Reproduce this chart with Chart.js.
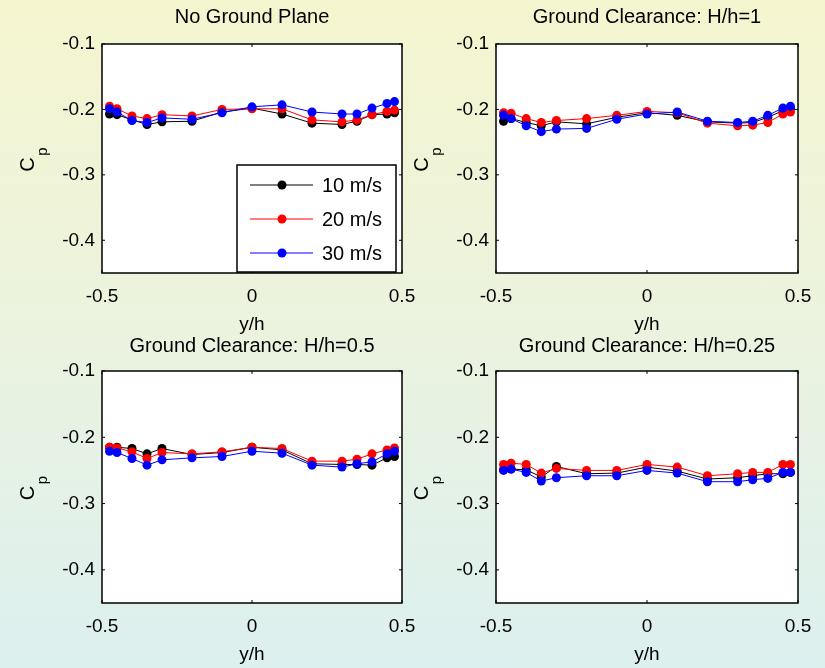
<!DOCTYPE html>
<html lang="en">
<head>
<meta charset="UTF-8">
<title>Cp vs y/h</title>
<script src="https://cdn.jsdelivr.net/npm/chart.js"></script>
<style>
  html, body { margin: 0; padding: 0; }
  body {
    width: 825px; height: 668px; position: relative; overflow: hidden;
    background: linear-gradient(to bottom, #f5f5cf 0%, #ebf3df 50%, #dcf0ef 100%);
  }
  canvas { position: absolute; }
</style>
</head>
<body>
<canvas id="c1" width="430" height="338" style="left:0px;top:0px"></canvas>
<canvas id="c2" width="431" height="338" style="left:394px;top:0px"></canvas>
<canvas id="c3" width="430" height="334" style="left:0px;top:334px"></canvas>
<canvas id="c4" width="431" height="334" style="left:394px;top:334px"></canvas>
<script>
// spanwise positions y/h (same for every panel)
const yh = [-0.475, -0.45, -0.4, -0.35, -0.3, -0.2, -0.1, 0, 0.1, 0.2, 0.3, 0.35, 0.4, 0.45, 0.475];
const speeds = ['10 m/s', '20 m/s', '30 m/s'];
const speedColors = ['#000000', '#ff0000', '#0000ff'];
const xTicks = [-0.5, 0, 0.5];
const yTicks = [-0.4, -0.3, -0.2, -0.1];
const titles = ['No Ground Plane', 'Ground Clearance: H/h=1', 'Ground Clearance: H/h=0.5', 'Ground Clearance: H/h=0.25'];

// No ground plane
const cpNoGround10 = [-0.207, -0.208, -0.216, -0.223, -0.219, -0.218, -0.204, -0.198, -0.207, -0.221, -0.223, -0.218, -0.208, -0.207, -0.205];
const cpNoGround20 = [-0.195, -0.199, -0.210, -0.214, -0.208, -0.210, -0.200, -0.199, -0.199, -0.216, -0.219, -0.216, -0.208, -0.203, -0.201];
const cpNoGround30 = [-0.199, -0.204, -0.217, -0.220, -0.213, -0.215, -0.205, -0.196, -0.193, -0.204, -0.207, -0.207, -0.198, -0.191, -0.188];
// H/h = 1
const cpH1_10 = [-0.218, -0.214, -0.220, -0.225, -0.219, -0.222, -0.212, -0.205, -0.209, -0.219, -0.221, -0.220, -0.212, -0.202, -0.199];
const cpH1_20 = [-0.205, -0.206, -0.214, -0.220, -0.217, -0.214, -0.209, -0.203, -0.205, -0.221, -0.225, -0.224, -0.220, -0.207, -0.204];
const cpH1_30 = [-0.209, -0.214, -0.225, -0.234, -0.230, -0.229, -0.215, -0.207, -0.204, -0.218, -0.220, -0.218, -0.209, -0.198, -0.195];
// H/h = 0.5
const cpH05_10 = [-0.215, -0.215, -0.217, -0.225, -0.217, -0.226, -0.223, -0.215, -0.219, -0.240, -0.241, -0.241, -0.242, -0.231, -0.229];
const cpH05_20 = [-0.215, -0.216, -0.222, -0.232, -0.223, -0.225, -0.222, -0.215, -0.217, -0.236, -0.236, -0.233, -0.225, -0.219, -0.216];
const cpH05_30 = [-0.221, -0.223, -0.232, -0.242, -0.234, -0.231, -0.229, -0.221, -0.224, -0.242, -0.245, -0.240, -0.237, -0.225, -0.221];
// H/h = 0.25
const cpH025_10 = [-0.249, -0.248, -0.249, -0.260, -0.244, -0.255, -0.254, -0.245, -0.251, -0.263, -0.261, -0.258, -0.255, -0.255, -0.253];
const cpH025_20 = [-0.241, -0.239, -0.241, -0.254, -0.247, -0.250, -0.250, -0.241, -0.245, -0.258, -0.255, -0.253, -0.253, -0.241, -0.241];
const cpH025_30 = [-0.250, -0.248, -0.253, -0.266, -0.261, -0.258, -0.258, -0.250, -0.254, -0.267, -0.267, -0.264, -0.262, -0.253, -0.253];

const FONT = 'Liberation Sans, Arial, sans-serif';

// white plot area, matlab style box with inward ticks, panel title and the C_p label
const axesBox = {
  id: 'axesBox',
  beforeDraw(chart) {
    const a = chart.chartArea, ctx = chart.ctx;
    ctx.save();
    ctx.fillStyle = '#ffffff';
    ctx.fillRect(a.left, a.top, a.right - a.left, a.bottom - a.top);
    ctx.restore();
  },
  afterDraw(chart, args, opts) {
    const a = chart.chartArea, ctx = chart.ctx;
    const xs = chart.scales.x, ys = chart.scales.y;
    ctx.save();
    ctx.strokeStyle = '#000000';
    ctx.lineWidth = 1.5;
    ctx.strokeRect(a.left, a.top, a.right - a.left, a.bottom - a.top);
    ctx.lineWidth = 1;
    ctx.beginPath();
    xs.ticks.forEach(t => {
      const px = xs.getPixelForValue(t.value);
      ctx.moveTo(px, a.bottom); ctx.lineTo(px, a.bottom - 3);
      ctx.moveTo(px, a.top); ctx.lineTo(px, a.top + 3);
    });
    ys.ticks.forEach(t => {
      const py = ys.getPixelForValue(t.value);
      ctx.moveTo(a.left, py); ctx.lineTo(a.left + 3, py);
      ctx.moveTo(a.right, py); ctx.lineTo(a.right - 3, py);
    });
    ctx.stroke();

    // title centred over the plot box
    ctx.fillStyle = '#000000';
    ctx.textAlign = 'center';
    ctx.textBaseline = 'middle';
    ctx.font = '20px ' + FONT;
    ctx.fillText(opts.title, (a.left + a.right) / 2, a.top - opts.titleGap);

    // y axis title C with subscript p, rotated
    const mid = (a.top + a.bottom) / 2;
    ctx.translate(a.left - 74, mid + 6);
    ctx.rotate(-Math.PI / 2);
    ctx.font = '20px ' + FONT;
    ctx.fillText('C', 0, 0);
    ctx.font = '15px ' + FONT;
    ctx.fillText('p', 13, 15);
    ctx.restore();
  }
};

// legend box drawn inside the first panel
const boxLegend = {
  id: 'boxLegend',
  afterDraw(chart) {
    const a = chart.chartArea, ctx = chart.ctx;
    const left = a.right - 165, right = a.right - 6, top = a.top + 121, bottom = a.bottom - 1;
    ctx.save();
    ctx.fillStyle = '#ffffff';
    ctx.fillRect(left, top, right - left, bottom - top);
    ctx.strokeStyle = '#000000';
    ctx.lineWidth = 1.5;
    ctx.strokeRect(left, top, right - left, bottom - top);
    ctx.font = '20px ' + FONT;
    ctx.textBaseline = 'middle';
    ctx.textAlign = 'left';
    chart.data.datasets.forEach((ds, i) => {
      const y = top + 20 + i * 34;
      ctx.strokeStyle = ds.borderColor;
      ctx.lineWidth = 1;
      ctx.beginPath();
      ctx.moveTo(left + 13, y); ctx.lineTo(left + 76, y);
      ctx.stroke();
      ctx.fillStyle = ds.backgroundColor;
      ctx.beginPath();
      ctx.arc(left + 45, y, 4.5, 0, Math.PI * 2);
      ctx.fill();
      ctx.fillStyle = '#000000';
      ctx.fillText(ds.label, left + 85, y + 1);
    });
    ctx.restore();
  }
};

function makeChart(id, title, series, topRow, withLegend) {
  const datasets = series.map((vals, i) => ({
    label: speeds[i],
    data: yh.map((x, k) => ({ x: x, y: vals[k] })),
    borderColor: speedColors[i],
    backgroundColor: speedColors[i],
    borderWidth: 1,
    pointRadius: 4.5,
    pointHoverRadius: 4.5,
    pointBorderWidth: 0,
    tension: 0,
    order: 3 - i      // blue drawn on top
  }));
  const plugins = [axesBox];
  if (withLegend) plugins.push(boxLegend);

  return new Chart(document.getElementById(id), {
    type: 'line',
    data: { datasets: datasets },
    plugins: plugins,
    options: {
      responsive: false,
      maintainAspectRatio: false,
      animation: false,
      events: [],
      layout: { padding: { left: 0, right: id === 'c1' || id === 'c3' ? 28 : 27, top: topRow ? 44 : 37, bottom: 0 } },
      plugins: {
        legend: { display: false },
        tooltip: { enabled: false },
        title: { display: false },
        axesBox: { title: title, titleGap: topRow ? 27 : 25 }
      },
      scales: {
        x: {
          type: 'linear',
          min: -0.5,
          max: 0.5,
          afterBuildTicks: s => { s.ticks = xTicks.map(v => ({ value: v })); },
          afterFit: s => { s.height = 65; },
          grid: { display: false, drawTicks: false },
          border: { display: false },
          ticks: {
            color: '#000000',
            padding: 12.6,
            maxRotation: 0,
            autoSkip: false,
            font: { family: FONT, size: 19, lineHeight: 1.2 },
            callback: v => (v === 0 ? '0' : v.toFixed(1))
          },
          title: {
            display: true,
            text: 'y/h',
            color: '#000000',
            font: { family: FONT, size: 19, lineHeight: 1.2 },
            padding: { top: 0, bottom: 1.6 }
          }
        },
        y: {
          type: 'linear',
          min: -0.45,
          max: -0.1,
          afterBuildTicks: s => { s.ticks = yTicks.map(v => ({ value: v })); },
          afterFit: s => { s.width = 102; },
          grid: { display: false, drawTicks: false },
          border: { display: false },
          ticks: {
            color: '#000000',
            padding: 7,
            autoSkip: false,
            font: { family: FONT, size: 19, lineHeight: 1.2 },
            callback: v => v.toFixed(1)
          }
        }
      }
    }
  });
}

makeChart('c1', titles[0], [cpNoGround10, cpNoGround20, cpNoGround30], true, true);
makeChart('c2', titles[1], [cpH1_10, cpH1_20, cpH1_30], true, false);
makeChart('c3', titles[2], [cpH05_10, cpH05_20, cpH05_30], false, false);
makeChart('c4', titles[3], [cpH025_10, cpH025_20, cpH025_30], false, false);
</script>
</body>
</html>
